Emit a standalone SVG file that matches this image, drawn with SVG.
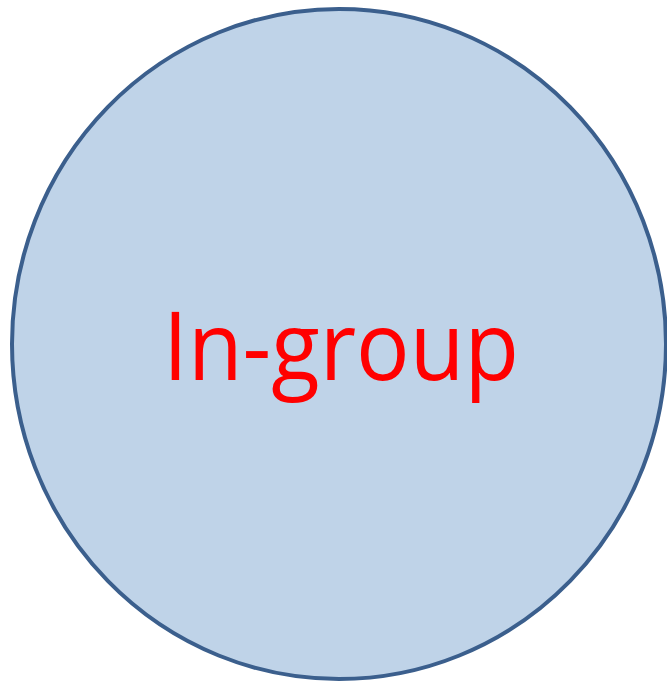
<svg xmlns="http://www.w3.org/2000/svg" width="667" height="681" viewBox="0 0 667 681">
<style>
.node{fill:#BFD3E8;stroke:#3B5F8D;stroke-width:4}
.lbl{font-family:"Open Sans","Noto Sans",sans-serif;font-size:95px;fill:#FF0000}
</style>
<rect width="667" height="681" fill="#FFFFFF"/>
<g id="ingroup">
<ellipse class="node" cx="339" cy="344" rx="327" ry="335"/>
<text class="lbl" x="341" y="380" text-anchor="middle" textLength="356" lengthAdjust="spacingAndGlyphs">In-group</text>
</g>
<g id="connectors"/>
</svg>
